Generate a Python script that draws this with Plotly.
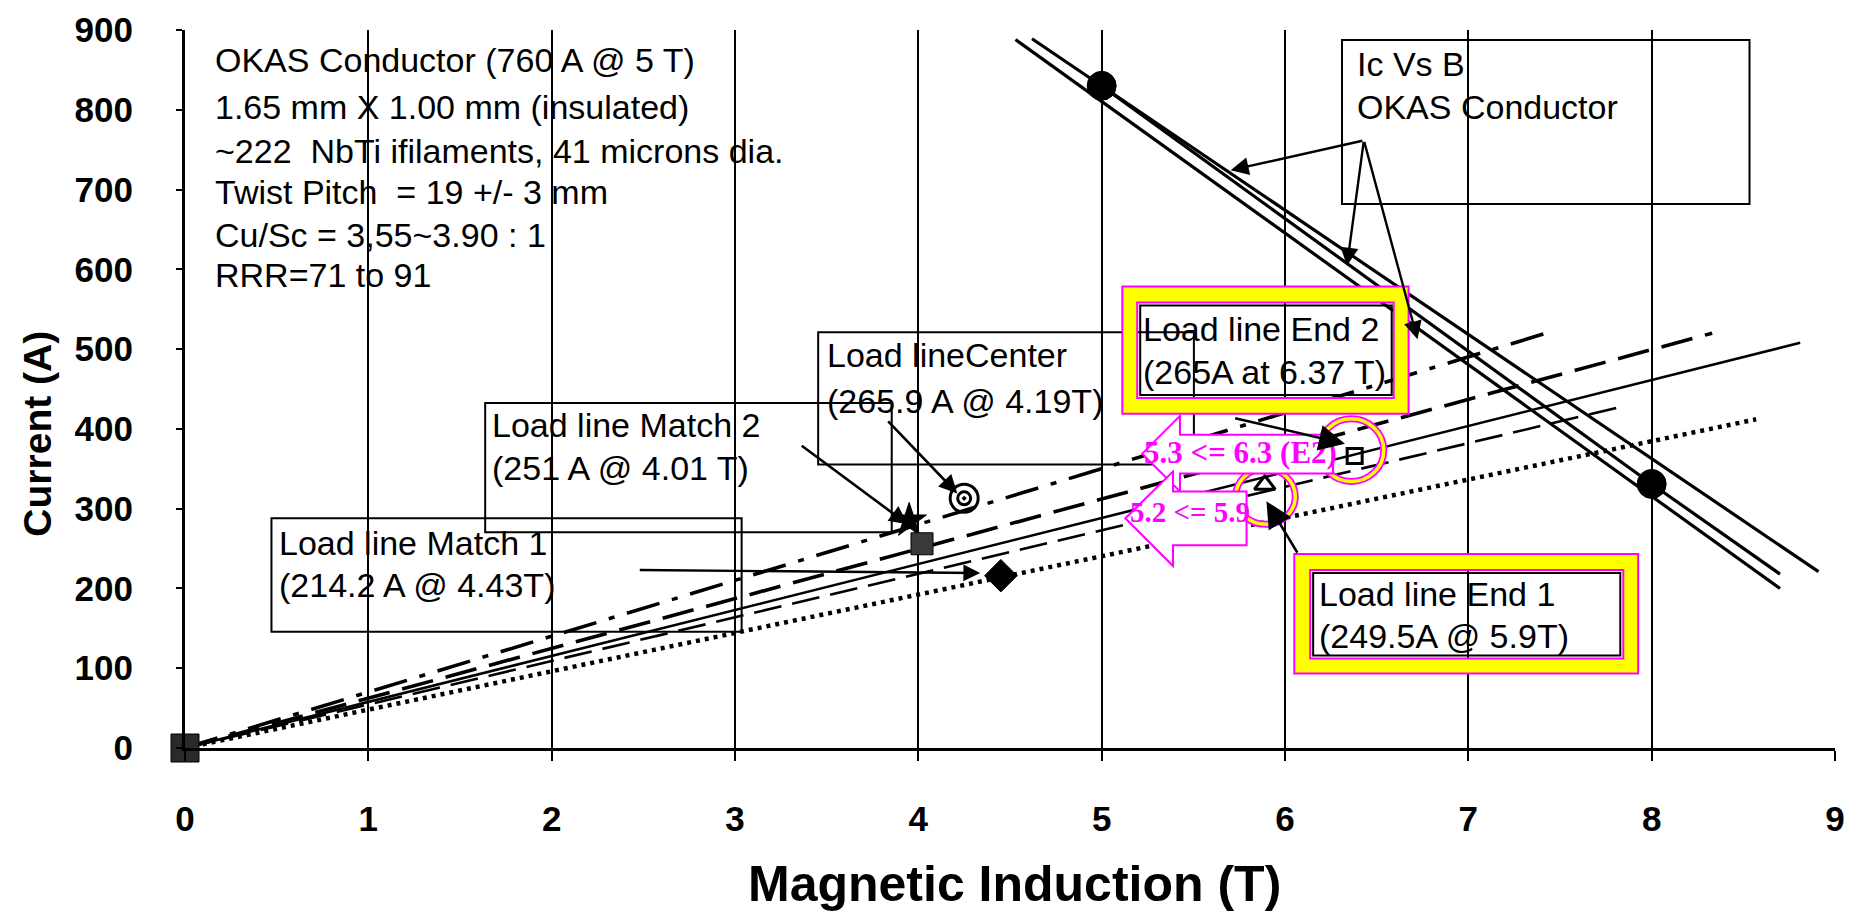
import plotly.graph_objects as go

# ---------------- data ----------------
x_ticks = [0, 1, 2, 3, 4, 5, 6, 7, 8, 9]
y_ticks = [0, 100, 200, 300, 400, 500, 600, 700, 800, 900]

# Ic vs B (three parallel curves) and its two markers
ic_upper_B = [4.62, 8.91]
ic_upper_I = [889, 221]
ic_middle_B = [5.0, 8.0, 8.70]
ic_middle_I = [830, 331, 218]
ic_lower_B = [4.53, 8.70]
ic_lower_I = [888, 200]
ic_marker_B = [5.0, 8.0]
ic_marker_I = [830, 331]

# load lines (from origin)
ll_dashdot_B = [0, 7.41]
ll_dashdot_I = [0, 519]
ll_longdash_B = [0, 8.33]
ll_longdash_I = [0, 520]
ll_solid_B = [0, 8.81]
ll_solid_I = [0, 508]
ll_thindash_B = [0, 7.86]
ll_thindash_I = [0, 429]
ll_dotted_B = [0, 8.57]
ll_dotted_I = [0, 412]

# operating points
origin_B = [0.0]
origin_I = [0.0]
center_B = [4.25]
center_I = [313]
match2_star_B = [3.95]
match2_star_I = [285]
match2_sq_B = [4.02]
match2_sq_I = [256]
match1_B = [4.45]
match1_I = [216]
end1_B = [5.89]
end1_I = [330]
end2_B = [6.38]
end2_I = [366]

info_lines = [
    "OKAS Conductor (760 A @ 5 T)",
    "1.65 mm X 1.00 mm (insulated)",
    "~222  NbTi ifilaments, 41 microns dia.",
    "Twist Pitch  = 19 +/- 3 mm",
    "Cu/Sc = 3,55~3.90 : 1",
    "RRR=71 to 91",
]

# ---------------- layout helpers (pixel -> axis units) ----------------
L, R, T, B = 185, 1845, 26, 748
def X(px):
    return (px - L) / ((R - L) / 9.0)
def Y(py):
    return (B - py) / ((B - T) / 900.0)
def PX(px):
    return (px - L) / (R - L)
def PY(py):
    return (B - py) / (B - T)

SANS = "Liberation Sans, Arial, sans-serif"
SERIF = "Liberation Serif, Times New Roman, serif"

fig = go.Figure()

def line(xs, ys, width, dash="solid"):
    fig.add_trace(go.Scatter(x=xs, y=ys, mode="lines",
                             line=dict(color="black", width=width, dash=dash),
                             hoverinfo="skip", showlegend=False))

def marker(xs, ys, symbol, size, color="black", lw=1):
    fig.add_trace(go.Scatter(x=xs, y=ys, mode="markers", cliponaxis=False,
                             marker=dict(symbol=symbol, size=size, color=color,
                                         line=dict(color="black", width=lw)),
                             hoverinfo="skip", showlegend=False))

line(ll_dotted_B, ll_dotted_I, 4.5, "4px,5px")
line(ll_thindash_B, ll_thindash_I, 2.6, "28px,11px")
line(ll_solid_B, ll_solid_I, 2.6)
line(ll_longdash_B, ll_longdash_I, 3.6, "32px,13px")
line(ll_dashdot_B, ll_dashdot_I, 3.6, "34px,13px,6px,13px")
line(ic_upper_B, ic_upper_I, 3.2)
line(ic_middle_B, ic_middle_I, 3.2)
line(ic_lower_B, ic_lower_I, 3.2)

marker(ic_marker_B, ic_marker_I, "circle", 29)
marker(origin_B, origin_I, "square", 28, "#2a2a2a")
marker(match2_star_B, match2_star_I, "star", 26)
marker(match2_sq_B, match2_sq_I, "square", 22, "#3a3a3a")
marker(match1_B, match1_I, "diamond", 25)
marker(center_B, center_I, "circle-open-dot", 28, "black", 3)
marker(center_B, center_I, "circle-open", 13, "black", 3)
marker(end1_B, end1_I, "triangle-up-open", 18, "black", 3)
marker(end2_B, end2_I, "square-open", 15, "black", 3)

shapes = []

def rect(x0, y0, x1, y1, color="black", width=2):
    shapes.append(dict(type="rect", xref="x", yref="y", x0=X(x0), x1=X(x1),
                       y0=Y(y0), y1=Y(y1), line=dict(color=color, width=width),
                       fillcolor="rgba(0,0,0,0)", layer="above"))

def pts_path(pts):
    return "M " + " L ".join(f"{X(a):.4f},{Y(b):.4f}" for a, b in pts) + " Z"

def framed_box(o, i, k):
    ox0, oy0, ox1, oy1 = o
    ix0, iy0, ix1, iy1 = i
    outer = pts_path([(ox0, oy0), (ox1, oy0), (ox1, oy1), (ox0, oy1)])
    inner = pts_path([(ix0, iy0), (ix0, iy1), (ix1, iy1), (ix1, iy0)])
    shapes.append(dict(type="path", xref="x", yref="y", path=outer + " " + inner,
                       fillcolor="#ffff00", line=dict(color="#ff00ff", width=2),
                       layer="above"))
    rect(*k, color="black", width=2)

def ellipse(x0, y0, x1, y1):
    for c, w in (("#ff00ff", 7), ("#ffff00", 3.5)):
        shapes.append(dict(type="circle", xref="x", yref="y", x0=X(x0), x1=X(x1),
                           y0=Y(y0), y1=Y(y1), line=dict(color=c, width=w),
                           fillcolor="rgba(0,0,0,0)", layer="above"))

def block_arrow(tip, hx, htop, hbot, bright, btop, bbot):
    tx, ty = tip
    pts = [(tx, ty), (hx, htop), (hx, btop), (bright, btop), (bright, bbot),
           (hx, bbot), (hx, hbot)]
    shapes.append(dict(type="path", xref="x", yref="y", path=pts_path(pts),
                       fillcolor="white", line=dict(color="#ff00ff", width=2),
                       layer="above"))

rect(1349, 36, 1759, 201)
rect(822, 330, 1200, 463)
rect(487, 401, 896, 531)
rect(272, 517, 745, 631)

ellipse(1242, 467, 1302, 523)
ellipse(1326, 417, 1391, 480)

framed_box((1128, 284, 1416, 412), (1143, 300, 1401, 396), (1146, 303, 1399, 393))
framed_box((1301, 553, 1647, 673), (1317, 569, 1632, 658), (1320, 572, 1629, 655))

block_arrow((1148, 452), 1186, 414, 490, 1340, 433, 472)
block_arrow((1131, 517), 1179, 470, 565, 1253, 490, 544)

annotations = []

def text(px, py, s, size=34, color="black", family=SANS, weight="normal",
         xanchor="left"):
    annotations.append(dict(x=X(px), y=Y(py), xref="x", yref="y", text=s,
                            showarrow=False, xanchor=xanchor, yanchor="middle",
                            font=dict(family=family, size=size, color=color,
                                      weight=weight)))

def arrow(tail, head, width=2.2, size=1.3):
    annotations.append(dict(x=X(head[0]), y=Y(head[1]), ax=X(tail[0]), ay=Y(tail[1]),
                            xref="x", yref="y", axref="x", ayref="y", text="",
                            showarrow=True, arrowhead=2, arrowsize=size,
                            arrowwidth=width, arrowcolor="black"))

info_y = [56, 103, 148, 189, 232, 272]
for s, py in zip(info_lines, info_y):
    text(213, py, s)

text(1362, 60, "Ic Vs B")
text(1362, 103, "OKAS Conductor")
text(829, 353, "Load lineCenter")
text(829, 399, "(265.9 A @ 4.19T)")
text(492, 423, "Load line Match 2")
text(492, 466, "(251 A @ 4.01 T)")
text(278, 542, "Load line Match 1")
text(278, 584, "(214.2 A @ 4.43T)")
text(1147, 327, "Load line End 2")
text(1147, 370, "(265A at 6.37 T)")
text(1324, 593, "Load line End 1")
text(1324, 635, "(249.5A @ 5.9T)")

text(1247, 451, "5.3 &lt;= 6.3 (E2)", size=31, color="#ff00ff", family=SERIF,
     weight="bold", xanchor="center")
text(1196, 511, "5.2 &lt;= 5.9", size=29, color="#ff00ff", family=SERIF,
     weight="bold", xanchor="center")

arrow((1371, 137), (1237, 167), 2.4, 1.5)
arrow((1371, 137), (1354, 263), 2.4, 1.5)
arrow((1371, 137), (1425, 337), 2.4, 1.5)
arrow((891, 418), (962, 492), 2.6, 1.4)
arrow((804, 443), (912, 523), 2.6, 1.4)
arrow((641, 569), (985, 572), 2.4, 1.4)
arrow((1240, 416), (1352, 442), 2.6, 2.0)
arrow((1305, 553), (1273, 500), 2.6, 2.0)

annotations.append(dict(x=PX(37), y=PY(432), xref="paper", yref="paper",
                        text="Current (A)", textangle=-90, showarrow=False,
                        xanchor="center", yanchor="middle",
                        font=dict(family=SANS, size=39, color="black", weight="bold")))
annotations.append(dict(x=PX(1020), y=PY(885), xref="paper", yref="paper",
                        text="Magnetic Induction (T)", showarrow=False,
                        xanchor="center", yanchor="middle",
                        font=dict(family=SANS, size=50, color="black", weight="bold")))

tickfont = dict(family=SANS, size=35, color="black", weight="bold")
fig.update_layout(
    width=1855, height=916, autosize=False,
    margin=dict(l=L, r=1855 - R, t=T, b=916 - B),
    paper_bgcolor="white", plot_bgcolor="white",
    showlegend=False,
    shapes=shapes, annotations=annotations,
    xaxis=dict(range=[0, 9], tickvals=x_ticks, ticktext=[str(v) for v in x_ticks],
               showgrid=True, gridcolor="black", gridwidth=2, zeroline=False,
               showline=True, linecolor="black", linewidth=3,
               ticks="outside", ticklen=10, tickwidth=2, tickcolor="black",
               ticklabelstandoff=28, tickfont=tickfont),
    yaxis=dict(range=[0, 900], tickvals=y_ticks, ticktext=[str(v) for v in y_ticks],
               showgrid=False, zeroline=False,
               showline=True, linecolor="black", linewidth=3,
               ticks="outside", ticklen=6, tickwidth=2, tickcolor="black",
               ticklabelstandoff=36, tickfont=tickfont),
)

fig.write_html("out.html")
